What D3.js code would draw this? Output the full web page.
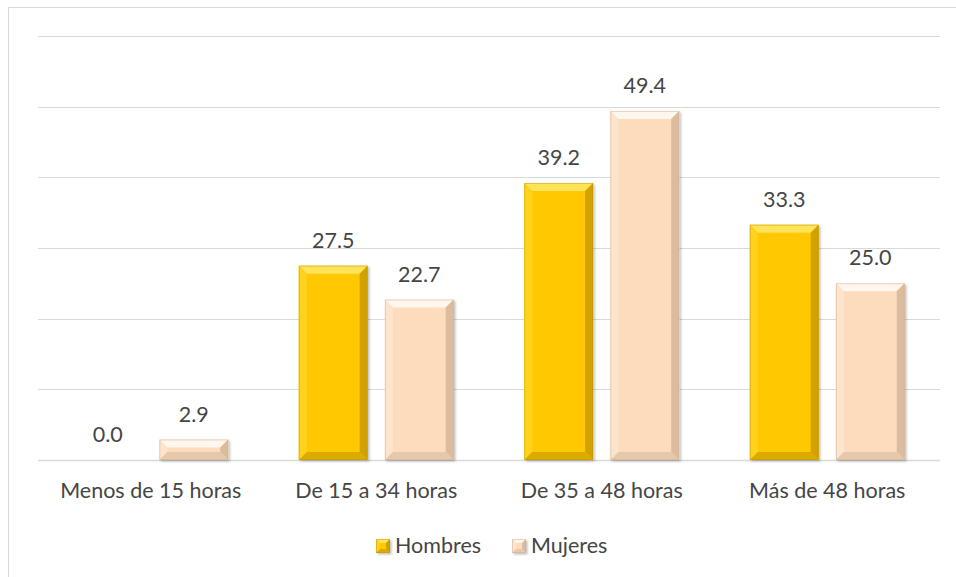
<!DOCTYPE html>
<html>
<head>
<meta charset="utf-8">
<script src="https://cdn.jsdelivr.net/npm/d3@7"></script>
<style>
  body { margin: 0; background: #fff; }
  svg text { font-family: Lato, "Open Sans", sans-serif; fill: #454545; }
</style>
</head>
<body>
<div id="chart"></div>
<script>
const categories = ["Menos de 15 horas", "De 15 a 34 horas", "De 35 a 48 horas", "Más de 48 horas"];
const seriesNames = ["Hombres", "Mujeres"];
const hombres = [0.0, 27.5, 39.2, 33.3];
const mujeres = [2.9, 22.7, 49.4, 25.0];
const yTicks = [0, 10, 20, 30, 40, 50, 60];

const palette = {
  Hombres: { face: "#ffc800", top: "#ffe45a", left: "#ffd21e", right: "#d2a200", bottom: "#dcab00", edge: "#b88f00" },
  Mujeres: { face: "#fcdcbd", top: "#fff6ee", left: "#fde4cc", right: "#dcbc9c", bottom: "#e6c8aa", edge: "#c8a88a" }
};

const W = 956, H = 577;
const margin = { top: 36, right: 16, bottom: 117, left: 38 };
const width = W - margin.left - margin.right;
const height = H - margin.top - margin.bottom;

const svg = d3.select("#chart").append("svg")
  .attr("width", W)
  .attr("height", H);

const defs = svg.append("defs");
const shadow = defs.append("filter").attr("id", "shadow")
  .attr("x", "-20%").attr("y", "-20%").attr("width", "140%").attr("height", "140%");
shadow.append("feDropShadow")
  .attr("dx", 1.5).attr("dy", 1.5).attr("stdDeviation", 1.2)
  .attr("flood-color", "#000").attr("flood-opacity", 0.25);

// chart frame
svg.append("rect")
  .attr("x", 8.5).attr("y", 7.5)
  .attr("width", W + 10).attr("height", H + 10)
  .attr("fill", "none")
  .attr("stroke", "#d9d9d9")
  .attr("stroke-width", 1);

const g = svg.append("g").attr("transform", `translate(${margin.left},${margin.top})`);

const y = d3.scaleLinear().domain([0, 60]).range([height, 0]);

const x0 = d3.scaleBand().domain(categories).range([0, width]);
const x1 = d3.scaleBand().domain(seriesNames).range([0, x0.bandwidth()])
  .paddingInner(0.2).paddingOuter(0.41);

// gridlines
g.append("g").selectAll("line")
  .data(yTicks)
  .enter().append("line")
  .attr("x1", 0).attr("x2", width)
  .attr("y1", d => Math.round(y(d)) + 0.5)
  .attr("y2", d => Math.round(y(d)) + 0.5)
  .attr("stroke", "#d9d9d9")
  .attr("stroke-width", d => d === 0 ? 1.5 : 1.2);

const rows = [];
categories.forEach((c, i) => {
  rows.push({ cat: c, s: "Hombres", v: hombres[i] });
  rows.push({ cat: c, s: "Mujeres", v: mujeres[i] });
});

function bevelBar(sel, x, yTop, w, h, col, b) {
  const grp = sel.append("g").attr("filter", "url(#shadow)");
  const bb = Math.min(b, h / 2, w / 2);
  const x2 = x + w, y2 = yTop + h;
  grp.append("rect").attr("x", x).attr("y", yTop).attr("width", w).attr("height", h).attr("fill", col.face);
  const poly = (pts, fill) => grp.append("polygon").attr("points", pts.map(p => p.join(",")).join(" ")).attr("fill", fill);
  poly([[x, yTop], [x2, yTop], [x2 - bb, yTop + bb], [x + bb, yTop + bb]], col.top);
  poly([[x, yTop], [x + bb, yTop + bb], [x + bb, y2 - bb], [x, y2]], col.left);
  poly([[x2, yTop], [x2, y2], [x2 - bb, y2 - bb], [x2 - bb, yTop + bb]], col.right);
  poly([[x, y2], [x + bb, y2 - bb], [x2 - bb, y2 - bb], [x2, y2]], col.bottom);
  grp.append("rect").attr("x", x + 0.5).attr("y", yTop + 0.5).attr("width", w - 1).attr("height", h - 1)
    .attr("fill", "none").attr("stroke", col.edge).attr("stroke-width", 0.8).attr("stroke-opacity", 0.5);
}

const bars = g.append("g");
rows.forEach(d => {
  const bx = x0(d.cat) + x1(d.s);
  const top = y(d.v);
  const h = y(0) - top;
  if (h > 0) bevelBar(bars, bx, top, x1.bandwidth(), h, palette[d.s], 8);
});

// value labels
g.append("g").selectAll("text")
  .data(rows)
  .enter().append("text")
  .attr("x", d => x0(d.cat) + x1(d.s) + x1.bandwidth() / 2)
  .attr("y", d => y(d.v) - 18)
  .attr("text-anchor", "middle")
  .style("font-size", "21.5px")
  .text(d => d.v.toFixed(1));

// category labels
g.append("g").selectAll("text")
  .data(categories)
  .enter().append("text")
  .attr("x", d => x0(d) + x0.bandwidth() / 2)
  .attr("y", height + 38)
  .attr("text-anchor", "middle")
  .style("font-size", "21.5px")
  .text(d => d);

// legend
const legend = svg.append("g").attr("transform", "translate(376,539)");
const legendX = [0, 136];
seriesNames.forEach((s, i) => {
  const lg = legend.append("g").attr("transform", `translate(${legendX[i]},0)`);
  bevelBar(lg, 0, 0, 14, 14, palette[s], 4);
  lg.append("text")
    .attr("x", 19).attr("y", 14)
    .style("font-size", "21.5px")
    .text(s);
});
</script>
</body>
</html>
